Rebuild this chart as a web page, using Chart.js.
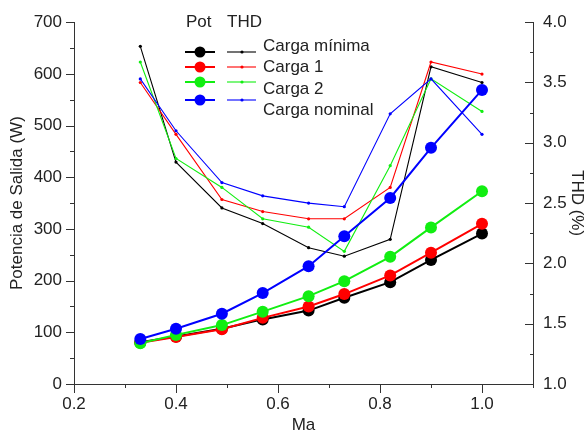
<!DOCTYPE html>
<html>
<head>
<meta charset="utf-8">
<script src="https://cdn.jsdelivr.net/npm/chart.js@4"></script>
<style>
  html, body { margin: 0; padding: 0; background: #fff; }
  #wrap { width: 588px; height: 436px; }
</style>
</head>
<body>
<div id="wrap"><canvas id="potChart" width="588" height="436"></canvas></div>
<script>
// modulation index (Ma) samples
const ma = [0.33, 0.40, 0.49, 0.57, 0.66, 0.73, 0.82, 0.90, 1.00];

// output power (W) per load
const potMin = [81, 92, 107, 125, 142, 167, 197, 240, 291];
const potC1 = [80, 91, 106, 128, 150, 174, 210, 254, 310];
const potC2 = [79, 95, 114, 140, 170, 199, 246, 303, 373];
const potNom = [87, 107, 136, 176, 228, 286, 360, 457, 569];

// THD (%) per load
const thdMin = [3.80, 2.84, 2.46, 2.33, 2.13, 2.06, 2.20, 3.63, 3.50];
const thdC1 = [3.50, 3.07, 2.53, 2.43, 2.37, 2.37, 2.63, 3.67, 3.57];
const thdC2 = [3.67, 2.87, 2.63, 2.37, 2.30, 2.10, 2.81, 3.53, 3.26];
const thdNom = [3.53, 3.10, 2.67, 2.56, 2.50, 2.47, 3.24, 3.53, 3.07];

const loads = ['Carga mínima', 'Carga 1', 'Carga 2', 'Carga nominal'];
const loadColors = ['#000000', '#ff0000', '#11ee11', '#0000ff'];

const xTicks = [0.2, 0.4, 0.6, 0.8, 1.0];
const potTicks = [0, 100, 200, 300, 400, 500, 600, 700];
const thdTicks = [1.0, 1.5, 2.0, 2.5, 3.0, 3.5, 4.0];

const FONT = '"Liberation Sans", Arial, sans-serif';
const TEXT = '#222222';
const AXIS = '#333333';

Chart.defaults.font.family = FONT;
Chart.defaults.font.size = 17;
Chart.defaults.color = TEXT;

function points(ys) {
    return ma.map((x, i) => ({ x: x, y: ys[i] }));
}

function potSet(idx, ys) {
    return {
        label: 'Pot ' + loads[idx],
        data: points(ys),
        yAxisID: 'y',
        borderColor: loadColors[idx],
        backgroundColor: loadColors[idx],
        borderWidth: 2,
        pointRadius: 6,
        pointBorderWidth: 0,
        tension: 0
    };
}

function thdSet(idx, ys) {
    return {
        label: 'THD ' + loads[idx],
        data: points(ys),
        yAxisID: 'y1',
        borderColor: loadColors[idx],
        backgroundColor: loadColors[idx],
        borderWidth: 1.1,
        pointRadius: 1.6,
        pointBorderWidth: 0,
        tension: 0
    };
}

// major/minor tick marks: outward on the left and bottom, inward on the right
const axisTicks = {
    id: 'axisTicks',
    afterDraw(chart) {
        const ctx = chart.ctx;
        const { x, y, y1 } = chart.scales;
        const area = chart.chartArea;
        ctx.save();
        ctx.strokeStyle = AXIS;
        ctx.lineWidth = 1;
        ctx.beginPath();
        for (let i = 0; i <= 9; i++) {
            const px = Math.round(x.getPixelForValue(0.2 + i * 0.1)) + 0.5;
            const len = i % 2 === 0 ? 9 : 4;
            ctx.moveTo(px, area.bottom);
            ctx.lineTo(px, area.bottom + len);
        }
        for (let i = 0; i <= 14; i++) {
            const py = Math.round(y.getPixelForValue(i * 50)) + 0.5;
            const len = i % 2 === 0 ? 8 : 4;
            ctx.moveTo(area.left, py);
            ctx.lineTo(area.left - len, py);
        }
        for (let i = 0; i <= 12; i++) {
            const py = Math.round(y1.getPixelForValue(1 + i * 0.25)) + 0.5;
            const len = i % 2 === 0 ? 8 : 3;
            ctx.moveTo(area.right, py);
            ctx.lineTo(area.right - len, py);
        }
        ctx.stroke();
        ctx.restore();
    }
};

// two-column legend: Pot (thick line with dot) and THD (thin line)
const loadLegend = {
    id: 'loadLegend',
    afterDraw(chart) {
        const ctx = chart.ctx;
        const symbolY = [52, 67, 82, 100];
        const textY = [51, 72, 94, 115];
        ctx.save();
        ctx.font = '17px ' + FONT;
        ctx.fillStyle = TEXT;
        ctx.textBaseline = 'alphabetic';
        ctx.fillText('Pot', 186, 27);
        ctx.fillText('THD', 227, 27);
        loads.forEach((name, i) => {
            const c = loadColors[i];
            const sy = symbolY[i];
            ctx.strokeStyle = c;
            ctx.fillStyle = c;
            ctx.lineWidth = 2;
            ctx.beginPath();
            ctx.moveTo(185, sy);
            ctx.lineTo(215, sy);
            ctx.stroke();
            ctx.beginPath();
            ctx.arc(200, sy, 5.5, 0, Math.PI * 2);
            ctx.fill();
            ctx.lineWidth = 1.1;
            ctx.beginPath();
            ctx.moveTo(227, sy);
            ctx.lineTo(256, sy);
            ctx.stroke();
            ctx.beginPath();
            ctx.arc(242, sy, 1.6, 0, Math.PI * 2);
            ctx.fill();
            ctx.fillStyle = TEXT;
            ctx.fillText(name, 263, textY[i]);
        });
        ctx.restore();
    }
};

const ctx = document.getElementById('potChart').getContext('2d');
new Chart(ctx, {
    type: 'line',
    data: {
        datasets: [
            potSet(3, potNom),
            potSet(2, potC2),
            potSet(1, potC1),
            potSet(0, potMin),
            thdSet(3, thdNom),
            thdSet(2, thdC2),
            thdSet(1, thdC1),
            thdSet(0, thdMin)
        ]
    },
    options: {
        responsive: false,
        animation: false,
        layout: { padding: { top: 15, left: 0, right: 0, bottom: 0 } },
        plugins: {
            legend: { display: false },
            tooltip: { enabled: false }
        },
        scales: {
            x: {
                type: 'linear',
                min: 0.2,
                max: 1.1,
                afterBuildTicks: s => { s.ticks = xTicks.map(v => ({ value: v })); },
                afterFit: s => { s.height = 52; },
                ticks: { padding: 10, maxRotation: 0, autoSkip: false, callback: v => v.toFixed(1) },
                grid: { drawOnChartArea: false, drawTicks: false },
                border: { color: AXIS, width: 1 },
                title: { display: true, text: 'Ma', padding: { top: 0, bottom: 0 } }
            },
            y: {
                type: 'linear',
                position: 'left',
                min: 0,
                max: 700,
                afterBuildTicks: s => { s.ticks = potTicks.map(v => ({ value: v })); },
                afterFit: s => { s.width = 74; },
                ticks: { padding: 12, autoSkip: false, callback: v => String(v) },
                grid: { drawOnChartArea: false, drawTicks: false },
                border: { color: AXIS, width: 1 },
                title: { display: true, text: 'Potencia de Salida (W)', padding: { top: 7, bottom: 0 } }
            },
            y1: {
                type: 'linear',
                position: 'right',
                min: 1,
                max: 4,
                afterBuildTicks: s => { s.ticks = thdTicks.map(v => ({ value: v })); },
                afterFit: s => { s.width = 55; },
                ticks: { padding: 10, autoSkip: false, callback: v => v.toFixed(1) },
                grid: { drawOnChartArea: false, drawTicks: false },
                border: { color: AXIS, width: 1 },
                title: { display: true, text: 'THD (%)', padding: { top: 1, bottom: 0 } }
            }
        }
    },
    plugins: [axisTicks, loadLegend]
});
</script>
</body>
</html>
